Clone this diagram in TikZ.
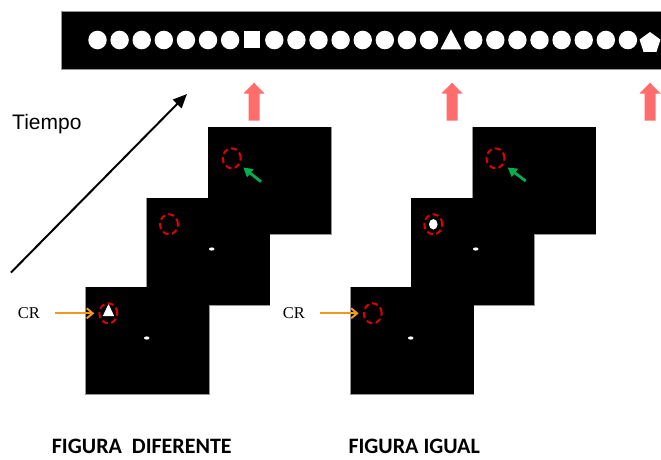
\documentclass[tikz,border=0pt]{standalone}
\usepackage{fontspec}
\setmainfont{Liberation Serif}
\newfontfamily\labelsans{Liberation Sans}
\newfontfamily\capsans{Carlito}
\usetikzlibrary{arrows.meta,shapes.geometric}

\definecolor{screenedge}{RGB}{150,150,150}
\definecolor{cueorange}{RGB}{242,152,30}
\definecolor{probered}{RGB}{225,0,0}
\definecolor{pointgreen}{RGB}{0,176,80}
\definecolor{markred}{RGB}{255,108,108}

\begin{document}
\begin{tikzpicture}[x=1pt,y=-1pt,
  ring/.style={ellipse,draw=probered,dash pattern=on 6pt off 3.5pt,line width=2pt,
    inner sep=0pt,minimum width=18pt,minimum height=20pt},
  fixdot/.style={ellipse,fill=white,inner sep=0pt,minimum width=5.6pt,minimum height=3.2pt},
  screenframe/.style={draw=screenedge,line width=1.3pt},
  screenfill/.style={fill=black},
  cuearrow/.style={draw=cueorange,line width=2pt,-{Straight Barb[length=6pt,width=10pt,line width=2pt]},
    shorten <=15pt,shorten >=4pt},
  hintarrow/.style={draw=pointgreen,line width=2.8pt,-{Triangle[length=9pt,width=10pt]}},
  timearrow/.style={draw=black,line width=2pt,-{Triangle[length=14pt,width=12pt]}},
  updatemark/.style={fill=markred},
  itemshape/.style={fill=white},
  txt/.style={inner sep=0pt,anchor=base west}
]
\useasboundingbox (0,0) rectangle (661,459);

% stream of items shown at fixation
\fill[black] (61,11) rectangle (662,69);
\draw[screenedge,line width=0.8pt] (662,11) -- (61,11) -- (61,69) -- (662,69);
\foreach \i in {0,...,6,8,9,...,15,17,18,...,24}
  \fill[itemshape] ({97.5+22.1*\i},40) ellipse (9.2pt and 9.3pt);
\fill[itemshape] (243.6,31) rectangle (259.6,48);
\fill[itemshape] (451,29.5) -- (461.5,49.3) -- (440.5,49.3) -- cycle;
\node[regular polygon,regular polygon sides=5,itemshape,inner sep=0pt,minimum size=22pt]
  (pentagon) at (650,43) {};

% markers under the changed items
\foreach \m in {254,452,650}
  \fill[updatemark] ({\m-5.5},120.7) -- ({\m-5.5},93.5) -- ({\m-10.5},93.5) -- (\m,82.7)
    -- ({\m+10.5},93.5) -- ({\m+5.5},93.5) -- ({\m+5.5},120.7) -- cycle;

% time axis
\coordinate (tStart) at (11,272.5);
\coordinate (tEnd) at (187,94);
\draw[timearrow] (tStart) -- (tEnd);
\node[txt] (tiempo) at (12,129.3) {\labelsans\fontsize{21}{24}\selectfont Tiempo};

% stacked screens, two sequences
\foreach \dx in {0,264.5} {
  \foreach \x/\y in {86/287.3,146.7/198.3,208.3/127.3}
    \draw[screenframe] ({\x+\dx},\y) rectangle ++(123,107);
}
\foreach \dx in {0,264.5} {
  \foreach \x/\y in {86/287.3,146.7/198.3,208.3/127.3}
    \fill[screenfill] ({\x+\dx},\y) rectangle ++(123,107);
}

% fixation points
\node[fixdot] (dotA1) at (146.7,338) {};
\node[fixdot] (dotA2) at (211.7,249) {};
\node[fixdot] (dotB1) at (410.7,338) {};
\node[fixdot] (dotB2) at (475.7,249) {};

% probe shapes
\fill[itemshape] (108.5,304) -- (114.2,316) -- (102.8,316) -- cycle;
\node[ellipse,itemshape,inner sep=0pt,minimum width=8.6pt,minimum height=10.4pt]
  (ovalB2) at (433.3,224.3) {};

% dashed location rings
\node[ring] (ringA1) at (108.3,313.3) {};
\node[ring] (ringA2) at (169,224.3) {};
\node[ring] (ringA3) at (231.7,158.3) {};
\node[ring] (ringB1) at (372.7,313.3) {};
\node[ring] (ringB2) at (433.3,224.3) {};
\node[ring] (ringB3) at (495.5,158.3) {};

% retro-cue arrows
\node[txt] (crA) at (17.7,318.3) {\fontsize{16.5}{19}\selectfont CR};
\node[txt] (crB) at (282.7,318.3) {\fontsize{16.5}{19}\selectfont CR};
\draw[cuearrow] (crA.east |- ringA1.west) -- (ringA1.west);
\draw[cuearrow] (crB.east |- ringB1.west) -- (ringB1.west);

% probe pointers
\coordinate (hintA) at (261,181.7);
\coordinate (hintB) at (525.7,181);
\draw[hintarrow,shorten >=4.5pt] (hintA) -- (ringA3);
\draw[hintarrow,shorten >=5pt] (hintB) -- (ringB3);

% condition labels
\node[txt] (diff) at (51.7,453.5) {\capsans\bfseries\fontsize{22}{26}\selectfont FIGURA\ \ DIFERENTE};
\node[txt] (same) at (348.3,453.5) {\capsans\bfseries\fontsize{22}{26}\selectfont FIGURA IGUAL};
\end{tikzpicture}
\end{document}
